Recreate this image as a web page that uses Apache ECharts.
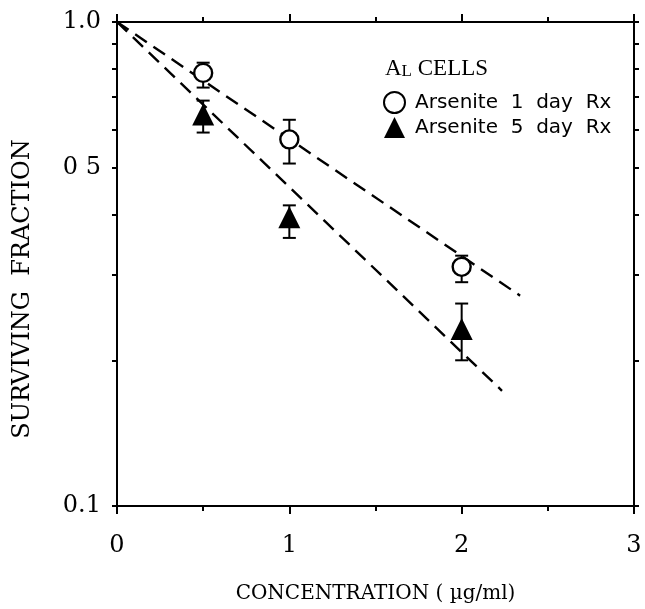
<!DOCTYPE html>
<html>
<head>
<meta charset="utf-8">
<script src="https://cdn.jsdelivr.net/npm/echarts@6/dist/echarts.min.js"></script>
<style>
html,body{margin:0;padding:0;background:#fff;}
#chart{width:645px;height:609px;}
</style>
</head>
<body>
<div id="chart"></div>
<script>
// ---- data ----
const concentrations = [0.5, 1, 2];
const day1Values = [0.785, 0.572, 0.312];
const day1Low    = [0.732, 0.510, 0.290];
const day1High   = [0.824, 0.628, 0.329];
const day5Values = [0.644, 0.395, 0.232];
const day5Low    = [0.591, 0.358, 0.200];
const day5High   = [0.688, 0.418, 0.262];
const fit1X = [0, 2.339];
const fit1Y = [1.0, 0.272];
const fit5X = [0, 2.234];
const fit5Y = [1.0, 0.173];
const yTickValues = [0.1, 0.2, 0.3, 0.4, 0.5, 0.6, 0.7, 0.8, 0.9, 1.0];
const yLabelValues = [0.1, 0.5, 1.0];
const yLabelTexts = ['0.1', '0 5', '1.0'];
const xLabelValues = [0, 1, 2, 3];
const seriesNames = ['Arsenite  1  day  Rx', 'Arsenite  5  day  Rx'];

const zip = (a, b) => a.map((v, i) => [v, b[i]]);
const errData = (lo, hi) => concentrations.map((x, i) => [x, lo[i], hi[i]]);

const serif = 'DejaVu Serif';
const black = '#000';

function errorBar(params, api) {
  const x = api.value(0);
  const lo = api.coord([x, api.value(1)]);
  const hi = api.coord([x, api.value(2)]);
  const w = 6.5;
  const st = { stroke: black, lineWidth: 2 };
  return {
    type: 'group',
    children: [
      { type: 'line', shape: { x1: lo[0], y1: lo[1], x2: hi[0], y2: hi[1] }, style: st },
      { type: 'line', shape: { x1: lo[0] - w, y1: lo[1], x2: lo[0] + w, y2: lo[1] }, style: st },
      { type: 'line', shape: { x1: hi[0] - w, y1: hi[1], x2: hi[0] + w, y2: hi[1] }, style: st }
    ]
  };
}

const yLabelFmt = v => {
  const k = yLabelValues.findIndex(t => Math.abs(t - v) < 1e-6);
  return k >= 0 ? yLabelTexts[k] : '';
};

const xBase = {
  type: 'value', min: 0, max: 3, interval: 1,
  axisLine: { show: true, onZero: false, lineStyle: { color: black, width: 2 } },
  axisTick: { show: true, length: 8, lineStyle: { color: black, width: 2 } },
  minorTick: { show: true, splitNumber: 2, length: 5, lineStyle: { color: black, width: 2 } },
  splitLine: { show: false }
};
const yBase = {
  type: 'log', logBase: 10, min: 0.1, max: 1,
  axisLine: { show: true, onZero: false, lineStyle: { color: black, width: 2 } },
  axisTick: { show: true, length: 5, customValues: yTickValues, lineStyle: { color: black, width: 2 } },
  splitLine: { show: false }
};

const chart = echarts.init(document.getElementById('chart'), null, { renderer: 'canvas' });
chart.setOption({
  backgroundColor: '#fff',
  animation: false,
  grid: { left: 117, right: 11, top: 22, bottom: 101 },
  title: {
    left: 380, top: 50,
    text: '{a|A}{b|L}{a| CELLS}',
    textStyle: {
      fontWeight: 'normal',
      rich: {
        a: { fontFamily: 'Liberation Serif', fontSize: 23, fontWeight: 'normal', color: black, verticalAlign: 'bottom', lineHeight: 25 },
        b: { fontFamily: 'Liberation Serif', fontSize: 17, fontWeight: 'normal', color: black, verticalAlign: 'bottom', lineHeight: 25 }
      }
    }
  },
  legend: {
    orient: 'vertical', left: 378, top: 86,
    itemWidth: 21, itemHeight: 21, itemGap: 3,
    data: seriesNames,
    textStyle: { fontFamily: 'DejaVu Sans', fontSize: 20, color: black, lineHeight: 21, padding: [0, 0, 0, 5] }
  },
  xAxis: [
    Object.assign({}, xBase, {
      position: 'bottom',
      axisLabel: { show: true, customValues: xLabelValues, margin: 28, fontFamily: serif, fontSize: 24, color: black },
      name: 'CONCENTRATION ( \u00b5g/ml)', nameLocation: 'middle', nameGap: 78,
      nameTextStyle: { fontFamily: serif, fontSize: 20, color: black }
    }),
    Object.assign({}, xBase, { position: 'top', axisLabel: { show: false } })
  ],
  yAxis: [
    Object.assign({}, yBase, {
      position: 'left',
      axisLabel: { show: true, customValues: yLabelValues, formatter: yLabelFmt, margin: 16, fontFamily: serif, fontSize: 24, color: black },
      name: 'SURVIVING  FRACTION', nameLocation: 'middle', nameGap: 82, nameRotate: 90,
      nameTextStyle: { fontFamily: serif, fontSize: 24, color: black, padding: [0, 50, 0, 0] }
    }),
    Object.assign({}, yBase, { position: 'right', axisLabel: { show: false } })
  ],
  series: [
    {
      type: 'line', data: zip(fit1X, fit1Y), showSymbol: false, symbol: 'none', z: 1,
      lineStyle: { color: black, width: 2.4, type: [14, 8] }, silent: true
    },
    {
      type: 'line', data: zip(fit5X, fit5Y), showSymbol: false, symbol: 'none', z: 1,
      lineStyle: { color: black, width: 2.4, type: [14, 8] }, silent: true
    },
    { type: 'custom', renderItem: errorBar, data: errData(day1Low, day1High), z: 2, encode: { x: 0, y: [1, 2] } },
    { type: 'custom', renderItem: errorBar, data: errData(day5Low, day5High), z: 2, encode: { x: 0, y: [1, 2] } },
    {
      name: seriesNames[0], type: 'scatter', data: zip(concentrations, day1Values), z: 3,
      symbol: 'circle', symbolSize: 18,
      itemStyle: { color: '#fff', borderColor: black, borderWidth: 2.4, opacity: 1 }
    },
    {
      name: seriesNames[1], type: 'scatter', data: zip(concentrations, day5Values), z: 3,
      symbol: 'triangle', symbolSize: 22,
      itemStyle: { color: black, borderColor: black, borderWidth: 0, opacity: 1 }
    }
  ]
});
</script>
</body>
</html>
